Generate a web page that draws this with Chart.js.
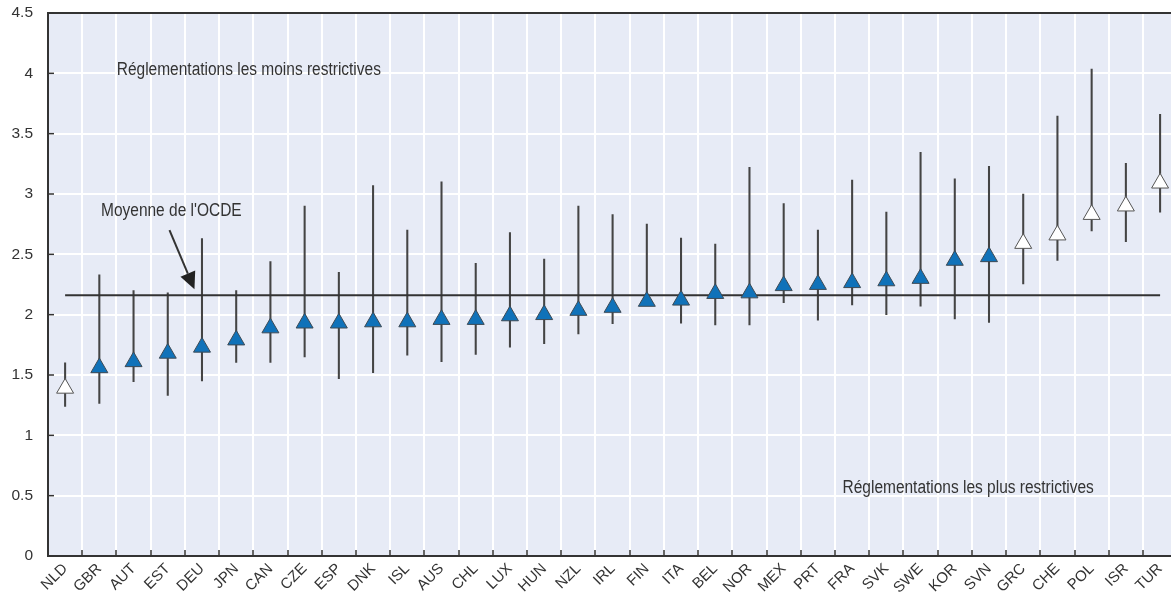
<!DOCTYPE html>
<html>
<head>
<meta charset="utf-8">
<script src="https://cdn.jsdelivr.net/npm/chart.js@4.4.1/dist/chart.umd.min.js"></script>
<style>
  html, body { margin: 0; padding: 0; overflow: hidden; background: #fff; }
</style>
</head>
<body>
<canvas id="chart" width="1188" height="598"></canvas>
<script>
const countries = ['NLD', 'GBR', 'AUT', 'EST', 'DEU', 'JPN', 'CAN', 'CZE', 'ESP', 'DNK', 'ISL',
    'AUS', 'CHL', 'LUX', 'HUN', 'NZL', 'IRL', 'FIN', 'ITA', 'BEL', 'NOR', 'MEX', 'PRT', 'FRA',
    'SVK', 'SWE', 'KOR', 'SVN', 'GRC', 'CHE', 'POL', 'ISR', 'TUR'];
const scores = [1.39, 1.56, 1.61, 1.68, 1.73, 1.79, 1.89, 1.93, 1.93, 1.94, 1.94,
    1.96, 1.96, 1.99, 2.00, 2.035, 2.06, 2.11, 2.12, 2.175, 2.18, 2.24, 2.25, 2.265,
    2.28, 2.30, 2.45, 2.48, 2.59, 2.66, 2.83, 2.90, 3.09];
const lows = [1.24, 1.265, 1.445, 1.33, 1.45, 1.605, 1.605, 1.65, 1.47, 1.52, 1.665,
    1.61, 1.67, 1.73, 1.76, 1.84, 1.925, 2.10, 1.93, 1.915, 1.915, 2.10, 1.955, 2.08,
    2.00, 2.07, 1.965, 1.935, 2.255, 2.45, 2.695, 2.605, 2.85];
const highs = [1.60, 2.33, 2.20, 2.18, 2.63, 2.20, 2.44, 2.90, 2.35, 3.07, 2.70,
    3.10, 2.425, 2.68, 2.46, 2.90, 2.83, 2.75, 2.635, 2.585, 3.22, 2.92, 2.70, 3.115,
    2.85, 3.345, 3.125, 3.23, 3.00, 3.645, 4.035, 3.255, 3.66];
const oecdAverage = 2.16;
const hollowCountries = ['NLD', 'GRC', 'CHE', 'POL', 'ISR', 'TUR'];
const yTickLabels = ['0', '0.5', '1', '1.5', '2', '2.5', '3', '3.5', '4', '4.5'];

const FONT = "'Liberation Sans', Arial, sans-serif";
const INK = '#333333';

// condensed-looking text: larger font squeezed horizontally
function note(ctx, text, px, py) {
    ctx.save();
    ctx.translate(px, py);
    ctx.scale(0.86, 1);
    ctx.fillText(text, 0, 0);
    ctx.restore();
}

const decor = {
    id: 'decor',
    beforeDraw(chart) {
        const { ctx, chartArea: a } = chart;
        ctx.save();
        ctx.fillStyle = '#e7ebf6';
        ctx.fillRect(a.left, a.top, a.right - a.left, a.bottom - a.top);
        ctx.restore();
    },
    afterDraw(chart) {
        const { ctx, chartArea: a, scales: { x, y } } = chart;
        ctx.save();
        ctx.strokeStyle = INK;
        ctx.lineWidth = 1.5;
        // small inner ticks on both axes
        for (let i = 0; i < countries.length - 1; i++) {
            const px = Math.round((x.getPixelForValue(i) + x.getPixelForValue(i + 1)) / 2);
            ctx.beginPath();
            ctx.moveTo(px, a.bottom);
            ctx.lineTo(px, a.bottom - 6);
            ctx.stroke();
        }
        yTickLabels.forEach((t, i) => {
            const py = y.getPixelForValue(i * 0.5);
            ctx.beginPath();
            ctx.moveTo(a.left, py);
            ctx.lineTo(a.left + 6, py);
            ctx.stroke();
        });

        // notes
        ctx.fillStyle = INK;
        ctx.font = '18px ' + FONT;
        ctx.textBaseline = 'middle';
        ctx.textAlign = 'left';
        note(ctx, 'Réglementations les moins restrictives', x.getPixelForValue(1.51), y.getPixelForValue(4.03));
        note(ctx, "Moyenne de l'OCDE", x.getPixelForValue(1.05), y.getPixelForValue(2.86));
        note(ctx, 'Réglementations les plus restrictives', x.getPixelForValue(22.72), y.getPixelForValue(0.56));

        // arrow to the average line
        const x0 = x.getPixelForValue(3.05), y0 = y.getPixelForValue(2.70);
        const x1 = x.getPixelForValue(3.78), y1 = y.getPixelForValue(2.21);
        const ang = Math.atan2(y1 - y0, x1 - x0);
        const head = 17, half = 8;
        const bx = x1 - head * Math.cos(ang), by = y1 - head * Math.sin(ang);
        ctx.lineWidth = 2;
        ctx.beginPath();
        ctx.moveTo(x0, y0);
        ctx.lineTo(bx, by);
        ctx.stroke();
        ctx.fillStyle = '#222';
        ctx.beginPath();
        ctx.moveTo(x1, y1);
        ctx.lineTo(bx + half * Math.sin(ang), by - half * Math.cos(ang));
        ctx.lineTo(bx - half * Math.sin(ang), by + half * Math.cos(ang));
        ctx.closePath();
        ctx.fill();
        ctx.restore();
    }
};

new Chart(document.getElementById('chart'), {
    data: {
        labels: countries,
        datasets: [
            {
                type: 'line',
                data: scores,
                showLine: false,
                pointStyle: 'triangle',
                pointRadius: 9.8,
                pointBackgroundColor: countries.map(c => hollowCountries.includes(c) ? '#ffffff' : '#1072b9'),
                pointBorderColor: countries.map(c => hollowCountries.includes(c) ? '#555555' : '#3d4a55'),
                pointBorderWidth: 1,
                order: 0
            },
            {
                type: 'line',
                data: countries.map(() => oecdAverage),
                borderColor: INK,
                borderWidth: 2,
                pointRadius: 0,
                order: 1
            },
            {
                type: 'bar',
                data: countries.map((c, i) => [lows[i], highs[i]]),
                backgroundColor: '#444444',
                barThickness: 1.4,
                borderWidth: 0,
                order: 2
            }
        ]
    },
    options: {
        responsive: false,
        animation: false,
        devicePixelRatio: 1,
        layout: { padding: { top: 13, right: 3, left: 0, bottom: 0 } },
        plugins: { legend: { display: false }, tooltip: { enabled: false } },
        scales: {
            x: {
                type: 'category',
                offset: true,
                grid: { offset: true, color: '#ffffff', lineWidth: 2, drawTicks: false },
                border: { color: INK, width: 2 },
                ticks: {
                    autoSkip: false, minRotation: 45, maxRotation: 45, padding: 4,
                    color: INK, font: { family: FONT, size: 15 }
                },
                afterFit(s) { s.height = 42; }
            },
            y: {
                min: 0,
                max: 4.5,
                grid: {
                    color: c => (c.tick && c.tick.value === 4.5) ? INK : '#ffffff',
                    lineWidth: 2,
                    drawTicks: false
                },
                border: { color: INK, width: 2 },
                ticks: {
                    stepSize: 0.5, padding: 15, color: INK,
                    font: { family: FONT, size: 15.5 },
                    callback: (v, i) => yTickLabels[i]
                },
                afterFit(s) {
                    s.width = 48;
                    s.paddingTop = 8;
                    s.paddingBottom = 0;
                }
            }
        }
    },
    plugins: [decor]
});
</script>
</body>
</html>
